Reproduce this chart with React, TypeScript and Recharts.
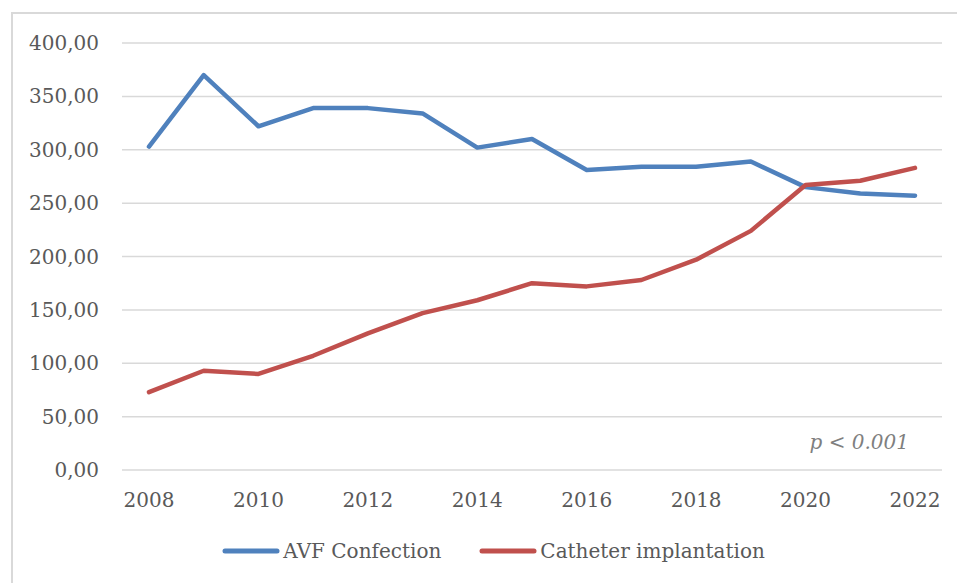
import React from 'react';
import { LineChart, Line, XAxis, YAxis, CartesianGrid, Legend } from 'recharts';

const years = ['2008','2009','2010','2011','2012','2013','2014','2015','2016','2017','2018','2019','2020','2021','2022'];
const avfConfection = [303, 370, 322, 339, 339, 334, 302, 310, 281, 284, 284, 289, 265, 259, 257];
const catheterImplantation = [73, 93, 90, 107, 128, 147, 159, 175, 172, 178, 197, 224, 267, 271, 283];
const yTicks = [0, 50, 100, 150, 200, 250, 300, 350, 400];
const seriesNames = ['AVF Confection', 'Catheter implantation'];
const seriesColors = ['#4F81BD', '#C0504D'];
const pValueText = 'p < 0.001';

const data = years.map((y, i) => ({
  year: y,
  avf: avfConfection[i],
  cat: catheterImplantation[i],
}));

const FONT = '"DejaVu Serif", "Liberation Serif", serif';
const TEXT_COLOR = '#595959';
const FS = 20;

const renderLegend = () => (
  <div style={{ display: 'flex', justifyContent: 'center', alignItems: 'center', fontFamily: FONT, fontSize: FS, color: TEXT_COLOR, paddingLeft: 30 }}>
    {seriesNames.map((n, i) => (
      <div key={n} style={{ display: 'flex', alignItems: 'center', marginRight: i === 0 ? 38 : 0 }}>
        <svg width={58} height={10} style={{ marginRight: 3 }}>
          <line x1={3} y1={5} x2={55} y2={5} stroke={seriesColors[i]} strokeWidth={5} strokeLinecap="round" />
        </svg>
        <span>{n}</span>
      </div>
    ))}
  </div>
);

export default function App() {
  return (
    <div style={{ position: 'absolute', left: 0, top: 0, width: 957, height: 583, overflow: 'hidden', background: '#fff' }}>
      <div style={{ position: 'absolute', left: 11, top: 12, width: 980, height: 620, border: '2px solid #d9d9d9', boxSizing: 'border-box' }} />
      <div style={{ position: 'absolute', left: 0, top: 0 }}>
        <LineChart width={957} height={583} data={data} margin={{ top: 43, right: 15, left: 0, bottom: 0 }}>
          <CartesianGrid vertical={false} stroke="#d9d9d9" strokeWidth={1.5} />
          <XAxis
            dataKey="year"
            interval={1}
            padding={{ left: 27, right: 27 }}
            axisLine={false}
            tickLine={false}
            tickSize={6}
            tickMargin={17}
            height={113}
            tick={{ fill: TEXT_COLOR, fontSize: FS, fontFamily: FONT }}
          />
          <YAxis
            domain={[0, 400]}
            ticks={yTicks}
            width={122}
            axisLine={false}
            tickLine={false}
            tickSize={6}
            tickMargin={17}
            tickFormatter={(v: number) => v.toFixed(2).replace('.', ',')}
            tick={{ fill: TEXT_COLOR, fontSize: FS, fontFamily: FONT }}
          />
          <Legend
            layout="horizontal"
            verticalAlign="middle"
            align="center"
            content={renderLegend}
            wrapperStyle={{ position: 'absolute', left: 0, top: 539, width: 957, height: 26 }}
          />
          <Line type="linear" dataKey="avf" name={seriesNames[0]} stroke={seriesColors[0]} strokeWidth={4.5} strokeLinecap="round" strokeLinejoin="round" dot={false} isAnimationActive={false} />
          <Line type="linear" dataKey="cat" name={seriesNames[1]} stroke={seriesColors[1]} strokeWidth={4.5} strokeLinecap="round" strokeLinejoin="round" dot={false} isAnimationActive={false} />
        </LineChart>
      </div>
      <div style={{ position: 'absolute', right: 957 - 909, top: 430, fontFamily: FONT, fontStyle: 'italic', fontSize: FS, color: '#7f7f7f', whiteSpace: 'nowrap' }}>
        {pValueText}
      </div>
    </div>
  );
}
